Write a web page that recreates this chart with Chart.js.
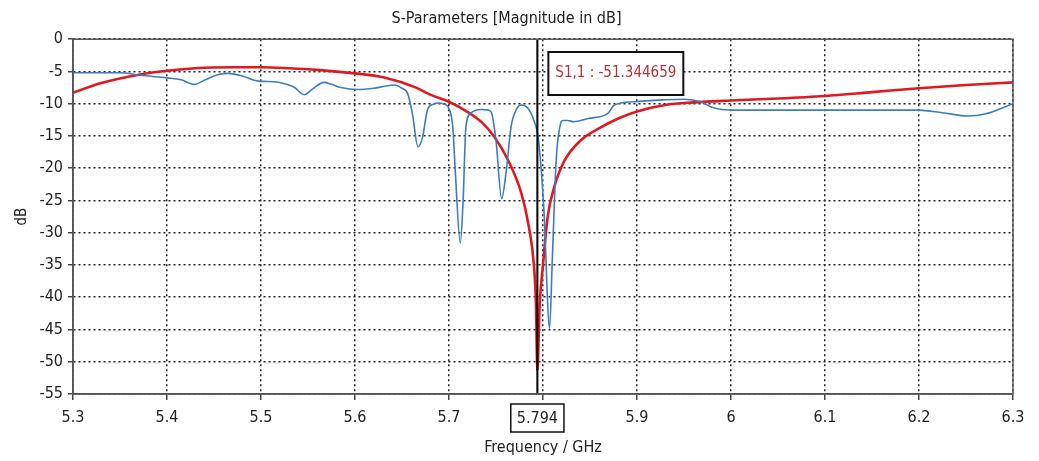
<!DOCTYPE html>
<html>
<head>
<meta charset="utf-8">
<title>S-Parameters</title>
<script src="https://cdn.jsdelivr.net/npm/chart.js@4/dist/chart.umd.min.js"></script>
<style>
  html, body { margin: 0; padding: 0; background: #fff; }
  #wrap { width: 1039px; height: 461px; }
</style>
</head>
<body>
<div id="wrap"><canvas id="sparam"></canvas></div>
<script>
// S11 traces, frequency in GHz, magnitude in dB
const redFreq = [5.30, 5.33, 5.37, 5.40, 5.43, 5.47, 5.50, 5.53, 5.56, 5.60, 5.63, 5.665, 5.68, 5.70, 5.72, 5.735, 5.748, 5.763, 5.777, 5.785, 5.790, 5.7925, 5.794, 5.7965, 5.800, 5.805, 5.812, 5.823, 5.840, 5.860, 5.880, 5.900, 5.930, 5.960, 6.000, 6.050, 6.100, 6.150, 6.200, 6.250, 6.300];
const redDb = [-8.3, -6.8, -5.5, -4.9, -4.5, -4.35, -4.35, -4.5, -4.75, -5.3, -5.9, -7.5, -8.6, -9.7, -11.3, -12.9, -15.1, -18.8, -23.9, -29.1, -34.5, -41, -51.344659, -41, -35, -27.5, -22.9, -18.8, -15.7, -13.8, -12.3, -11.2, -10.2, -9.8, -9.5, -9.2, -8.8, -8.2, -7.6, -7.1, -6.7];

const blueFreq = [5.30, 5.35, 5.372, 5.40, 5.415, 5.429, 5.442, 5.454, 5.465, 5.48, 5.497, 5.514, 5.525, 5.535, 5.546, 5.555, 5.567, 5.575, 5.585, 5.603, 5.62, 5.632, 5.642, 5.650, 5.656, 5.661, 5.667, 5.672, 5.677, 5.683, 5.689, 5.695, 5.699, 5.704, 5.707, 5.712, 5.715, 5.718, 5.723, 5.734, 5.742, 5.745, 5.75, 5.756, 5.761, 5.766, 5.772, 5.777, 5.784, 5.790, 5.795, 5.801, 5.807, 5.810, 5.814, 5.818, 5.821, 5.826, 5.833, 5.848, 5.869, 5.876, 5.897, 5.929, 5.95, 5.968, 5.979, 6.003, 6.10, 6.20, 6.225, 6.252, 6.27, 6.30];
const blueDb = [-5.2, -5.2, -5.6, -6.0, -6.3, -7.0, -6.2, -5.5, -5.3, -5.7, -6.5, -6.6, -6.9, -7.4, -8.6, -7.7, -6.7, -7.0, -7.5, -7.8, -7.6, -7.3, -7.1, -7.6, -8.4, -11.5, -16.7, -15.1, -11.0, -10.1, -9.9, -10.1, -10.5, -13.6, -21.3, -31.6, -25, -13.6, -11.5, -10.9, -11.0, -11.3, -15.7, -24.7, -20.3, -13.6, -10.8, -10.2, -10.7, -12.5, -15.4, -26.5, -44.8, -33.7, -18.8, -13.5, -12.6, -12.6, -12.8, -12.3, -11.5, -10.2, -9.7, -9.4, -9.3, -9.7, -10.5, -11.0, -11.0, -11.0, -11.4, -11.9, -11.6, -10.0];

const xTicks = [5.3, 5.4, 5.5, 5.6, 5.7, 5.8, 5.9, 6.0, 6.1, 6.2, 6.3];
const yTicks = [0, -5, -10, -15, -20, -25, -30, -35, -40, -45, -50, -55];

// marker on the red trace
const markerFreq = 5.794;
const markerDb = -51.344659;
const markerName = 'S1,1';

const FONT = '"DejaVu Sans Condensed", "Liberation Sans Narrow", "DejaVu Sans", sans-serif';

const toPoints = (xs, ys) => xs.map((x, i) => ({ x: x, y: ys[i] }));

// frame, marker line, marker readout and the boxed x value
const markerPlugin = {
  id: 'markerPlugin',
  afterDatasetsDraw(chart) {
    const { ctx, chartArea: a, scales } = chart;
    const mx = scales.x.getPixelForValue(markerFreq);
    ctx.save();
    ctx.strokeStyle = '#000';
    ctx.lineWidth = 2;
    ctx.beginPath();
    ctx.moveTo(mx, a.top);
    ctx.lineTo(mx, a.bottom);
    ctx.stroke();
    ctx.restore();
  },
  afterDraw(chart) {
    const { ctx, chartArea: a, scales } = chart;
    const mx = scales.x.getPixelForValue(markerFreq);
    ctx.save();
    // plot frame
    ctx.strokeStyle = '#555';
    ctx.lineWidth = 1.5;
    ctx.strokeRect(a.left, a.top, a.right - a.left, a.bottom - a.top);

    // readout box
    const txt = markerName + ' : ' + markerDb.toFixed(6);
    ctx.font = '15px ' + FONT;
    const tw = ctx.measureText(txt).width;
    const bx = mx + 11, by = 52, bw = tw + 14, bh = 43;
    ctx.fillStyle = '#fff';
    ctx.fillRect(bx, by, bw, bh);
    ctx.strokeStyle = '#111';
    ctx.lineWidth = 2;
    ctx.strokeRect(bx, by, bw, bh);
    ctx.fillStyle = '#bb2f3a';
    ctx.textAlign = 'left';
    ctx.textBaseline = 'middle';
    ctx.fillText(txt, bx + 7, by + bh / 2);

    // boxed frequency under the axis
    ctx.font = '16px ' + FONT;
    const ft = markerFreq.toFixed(3);
    const fw = ctx.measureText(ft).width + 12;
    const fy = a.bottom + 10, fh = 28;
    ctx.fillStyle = '#fff';
    ctx.fillRect(mx - fw / 2, fy, fw, fh);
    ctx.strokeStyle = '#111';
    ctx.lineWidth = 1.5;
    ctx.strokeRect(mx - fw / 2, fy, fw, fh);
    ctx.fillStyle = '#222';
    ctx.textAlign = 'center';
    ctx.fillText(ft, mx, fy + fh / 2 + 1);
    ctx.restore();
  }
};

const ctx = document.getElementById('sparam');
const chart = new Chart(ctx, {
  type: 'line',
  data: {
    datasets: [
      {
        label: 'S1,1 (ref)',
        data: toPoints(blueFreq, blueDb),
        borderColor: '#3b7dbf',
        borderWidth: 1.6,
        pointRadius: 0,
        cubicInterpolationMode: 'monotone',
        fill: false,
      },
      {
        label: 'S1,1',
        data: toPoints(redFreq, redDb),
        borderColor: '#dd1a1f',
        borderWidth: 2.6,
        pointRadius: 0,
        cubicInterpolationMode: 'monotone',
        fill: false,
      }
    ]
  },
  options: {
    responsive: true,
    maintainAspectRatio: false,
    animation: false,
    layout: { padding: { top: 0, right: 26, bottom: 0, left: 0 } },
    scales: {
      x: {
        type: 'linear',
        min: 5.3,
        max: 6.3,
        afterBuildTicks: (s) => { s.ticks = xTicks.map(v => ({ value: v })); },
        afterFit: (s) => { s.height = 67; },
        grid: {
          color: '#222',
          lineWidth: 1.5,
          tickLength: 6,
          tickColor: '#444',
        },
        border: { display: true, color: '#555', width: 1.5, dash: [2, 3] },
        ticks: {
          color: '#222',
          padding: 8,
          maxRotation: 0,
          font: { family: FONT, size: 16 },
          callback: (v) => Math.abs(v - 5.8) < 1e-6 ? '' : String(Number(v.toFixed(1))),
        },
        title: {
          display: true,
          text: 'Frequency / GHz',
          color: '#222',
          font: { family: FONT, size: 16 },
          padding: { top: 0, bottom: 4 },
        },
      },
      y: {
        min: -55,
        max: 0,
        afterBuildTicks: (s) => { s.ticks = yTicks.map(v => ({ value: v })); },
        afterFit: (s) => { s.width = 73; },
        grid: {
          color: '#222',
          lineWidth: 1.5,
          tickLength: 5,
          tickColor: '#444',
        },
        border: { display: true, color: '#555', width: 1.5, dash: [2, 3] },
        ticks: {
          color: '#222',
          padding: 5,
          font: { family: FONT, size: 16 },
        },
        title: {
          display: true,
          text: 'dB',
          color: '#222',
          font: { family: FONT, size: 15 },
          padding: { top: 13, bottom: 0 },
        },
      },
    },
    plugins: {
      legend: { display: false },
      tooltip: { enabled: false },
      title: {
        display: true,
        text: 'S-Parameters [Magnitude in dB]',
        color: '#222',
        font: { family: FONT, size: 16, weight: 'normal' },
        padding: { top: 9, bottom: 11 },
      },
    },
  },
  plugins: [markerPlugin],
});
</script>
</body>
</html>
